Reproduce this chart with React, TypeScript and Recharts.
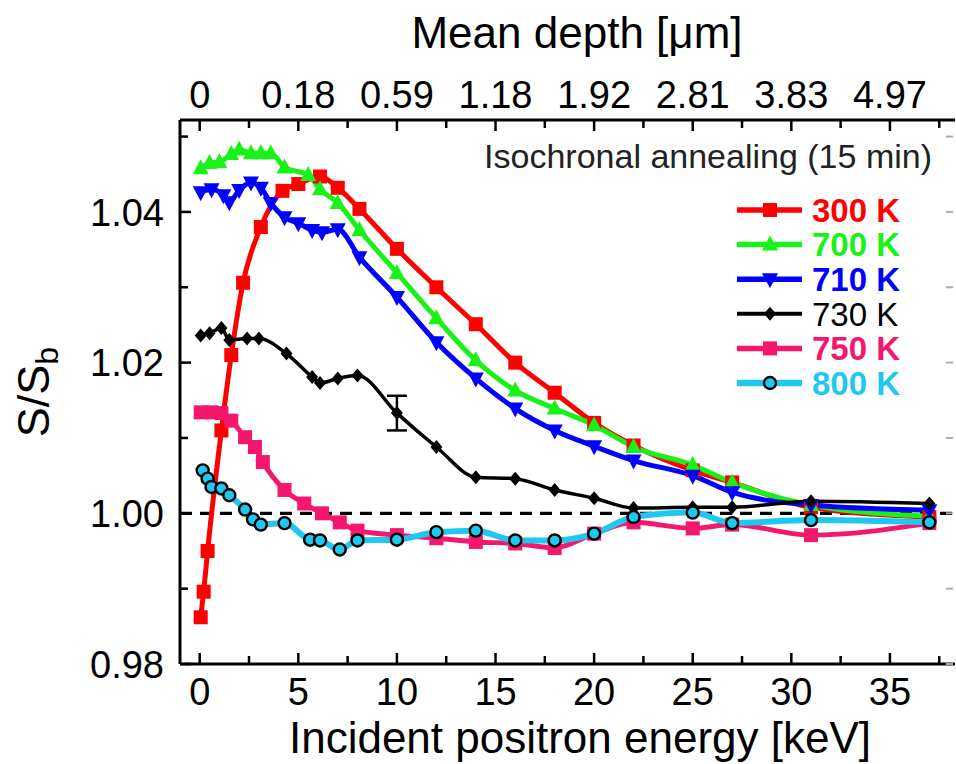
import React from 'react';
import { LineChart, Line, XAxis, YAxis, ReferenceLine, ErrorBar } from 'recharts';

const FONT = '"Liberation Sans", Arial, Helvetica, sans-serif';
const W = 956;
const H = 764;

// axis ticks
const energyTicks = [0, 2.5, 5, 7.5, 10, 12.5, 15, 17.5, 20, 22.5, 25, 27.5, 30, 32.5, 35, 37.5];
const energyLabels = ['0', '5', '10', '15', '20', '25', '30', '35'];
const depthLabels = ['0', '0.18', '0.59', '1.18', '1.92', '2.81', '3.83', '4.97'];
const sTicks = [0.98, 0.99, 1.0, 1.01, 1.02, 1.03, 1.04, 1.05];
const sLabels = ['0.98', '1.00', '1.02', '1.04'];

// 300 K
const e300 = [0.05, 0.2, 0.4, 1.1, 1.6, 2.2, 3.1, 4.2, 5.0, 6.1, 7.0, 8.1, 10, 12, 14, 16, 18, 20, 22, 25, 27, 31, 37];
const s300 = [0.9862, 0.9896, 0.995, 1.011, 1.021, 1.0306, 1.038, 1.0428, 1.0437, 1.0447, 1.0432, 1.0404, 1.0351, 1.030, 1.0251, 1.020, 1.016, 1.012, 1.009, 1.0057, 1.0041, 1.0008, 0.9995];
// 700 K
const e700 = [0.05, 0.5, 1.0, 1.6, 2.0, 2.6, 3.1, 3.6, 4.3, 5.5, 6.1, 7.0, 8.1, 10, 12, 14, 16, 18, 20, 22, 25, 27, 31, 37];
const s700 = [1.0458, 1.0465, 1.0466, 1.0477, 1.0483, 1.0478, 1.0478, 1.0478, 1.0459, 1.0449, 1.043, 1.0412, 1.0376, 1.0319, 1.0259, 1.0203, 1.0163, 1.0139, 1.0117, 1.0088, 1.0064, 1.0041, 1.0011, 0.9996];
// 710 K
const e710 = [0.05, 0.6, 1.2, 1.5, 2.0, 2.6, 3.1, 3.6, 4.3, 5.0, 5.7, 6.2, 7.0, 8.1, 10, 12, 14, 16, 18, 20, 22, 25, 27, 31, 37];
const s710 = [1.0426, 1.043, 1.0422, 1.0413, 1.0429, 1.0439, 1.0432, 1.0412, 1.0393, 1.0385, 1.0376, 1.0373, 1.0377, 1.034, 1.0287, 1.0227, 1.0179, 1.0139, 1.011, 1.0089, 1.007, 1.005, 1.0028, 1.0011, 1.0004];
// 730 K
const e730 = [0.05, 0.5, 1.1, 1.5, 2.4, 3.0, 4.4, 5.7, 6.1, 7.0, 8.0, 10, 12, 14, 16, 18, 20, 22, 25, 27, 31, 37];
const s730 = [1.0236, 1.0239, 1.0246, 1.023, 1.0232, 1.0232, 1.0212, 1.0181, 1.0173, 1.0179, 1.0183, 1.0133, 1.0088, 1.0048, 1.0046, 1.0031, 1.002, 1.0007, 1.0008, 1.0008, 1.0016, 1.0013];
const errE = 10;
const errS = 0.0023;
// 750 K
const e750 = [0.05, 0.6, 1.1, 1.6, 2.3, 2.8, 3.2, 4.3, 5.3, 6.2, 7.1, 8.0, 10, 12, 14, 16, 18, 20, 22, 25, 27, 31, 37];
const s750 = [1.0134, 1.0134, 1.0133, 1.0123, 1.0101, 1.0088, 1.0068, 1.0031, 1.0013, 1.0, 0.9988, 0.9977, 0.9971, 0.9967, 0.9962, 0.996, 0.9954, 0.9973, 0.9988, 0.998, 0.9985, 0.9971, 0.9987];
// 800 K
const e800 = [0.15, 0.4, 0.6, 1.1, 1.5, 2.3, 2.7, 3.1, 4.3, 5.6, 6.1, 7.1, 8.0, 10, 12, 14, 16, 18, 20, 22, 25, 27, 31, 37];
const s800 = [1.0057, 1.0046, 1.0035, 1.0033, 1.0024, 1.0005, 0.9992, 0.9985, 0.9987, 0.9965, 0.9964, 0.9952, 0.9964, 0.9965, 0.9975, 0.9977, 0.9964, 0.9964, 0.9973, 0.9995, 1.0001, 0.9987, 0.9991, 0.9988];

const zip = (e: number[], s: number[]) => e.map((v, i) => ({ e: v, s: s[i] }));

const series = [
  { name: '300 K', color: '#ff0000', shape: 'square', bold: true, width: 5, data: zip(e300, s300) },
  { name: '700 K', color: '#19f219', shape: 'up', bold: true, width: 5, data: zip(e700, s700) },
  { name: '710 K', color: '#0000ff', shape: 'down', bold: true, width: 5, data: zip(e710, s710) },
  {
    name: '730 K', color: '#000000', shape: 'diamond', bold: false, width: 3.5,
    data: zip(e730, s730).map((d) => (d.e === errE ? { ...d, err: errS } : d)),
  },
  { name: '750 K', color: '#f5166e', shape: 'square', bold: true, width: 5, data: zip(e750, s750) },
  { name: '800 K', color: '#1ec8f0', shape: 'circle', bold: true, width: 6, data: zip(e800, s800) },
];

function Marker({ cx, cy, shape, color }: any) {
  if (cx == null || cy == null) return null;
  if (shape === 'square') return <rect x={cx - 7} y={cy - 7} width={14} height={14} fill={color} />;
  if (shape === 'up')
    return <polygon points={`${cx},${cy - 9} ${cx - 8},${cy + 6} ${cx + 8},${cy + 6}`} fill={color} />;
  if (shape === 'down')
    return <polygon points={`${cx},${cy + 9} ${cx - 8},${cy - 6} ${cx + 8},${cy - 6}`} fill={color} />;
  if (shape === 'diamond')
    return <polygon points={`${cx},${cy - 7} ${cx + 6},${cy} ${cx},${cy + 7} ${cx - 6},${cy}`} fill={color} />;
  return <circle cx={cx} cy={cy} r={6} fill={color} stroke="#000" strokeWidth={2.4} />;
}

function BottomTick({ x, y, index }: any) {
  const major = index % 2 === 0;
  return (
    <g>
      <line x1={x} x2={x} y1={y} y2={y - (major ? 11 : 8)} stroke="#000" strokeWidth={2.5} />
      {major && (
        <text x={x} y={y + 41} textAnchor="middle" fontSize={38} fontFamily={FONT} fill="#000">
          {energyLabels[index / 2]}
        </text>
      )}
    </g>
  );
}

function TopTick({ x, y, index }: any) {
  const major = index % 2 === 0;
  return (
    <g>
      <line x1={x} x2={x} y1={y} y2={y + (major ? 11 : 8)} stroke="#000" strokeWidth={2.5} />
      {major && (
        <text x={x} y={y - 12} textAnchor="middle" fontSize={38} fontFamily={FONT} fill="#000">
          {depthLabels[index / 2]}
        </text>
      )}
    </g>
  );
}

function LeftTick({ x, y, index }: any) {
  const major = index % 2 === 0;
  return (
    <g>
      <line x1={x} x2={x + (major ? 11 : 8)} y1={y} y2={y} stroke="#000" strokeWidth={2.5} />
      {major && (
        <text x={x - 16} y={y} dy="0.36em" textAnchor="end" fontSize={38} fontFamily={FONT} fill="#000">
          {sLabels[index / 2]}
        </text>
      )}
    </g>
  );
}

function RightTick({ x, y }: any) {
  return <line x1={x - 9} x2={x - 2} y1={y} y2={y} stroke="#aaa" strokeWidth={2} />;
}

export default function App() {
  return (
    <div style={{ position: 'absolute', left: 0, top: 0, width: W, height: H, background: '#fff' }}>
      <LineChart width={W} height={H} margin={{ top: 0, right: 0, bottom: 0, left: 0 }}>
        <XAxis
          xAxisId="e"
          dataKey="e"
          type="number"
          domain={[-1, 38.3]}
          allowDataOverflow
          ticks={energyTicks}
          interval={0}
          height={100}
          tickSize={0}
          tickMargin={0}
          tickLine={false}
          axisLine={{ stroke: '#000', strokeWidth: 3 }}
          tick={<BottomTick />}
          label={{
            content: () => (
              <text x={580} y={753} textAnchor="middle" fontSize={44} fontFamily={FONT} fill="#000">
                Incident positron energy [keV]
              </text>
            ),
          }}
        />
        <XAxis
          xAxisId="top"
          dataKey="e"
          orientation="top"
          type="number"
          domain={[-1, 38.3]}
          allowDataOverflow
          ticks={energyTicks}
          interval={0}
          height={120}
          tickSize={0}
          tickMargin={0}
          tickLine={false}
          axisLine={{ stroke: '#000', strokeWidth: 3 }}
          tick={<TopTick />}
          label={{
            content: () => (
              <text x={577} y={48} textAnchor="middle" fontSize={44} fontFamily={FONT} fill="#000">
                Mean depth [μm]
              </text>
            ),
          }}
        />
        <YAxis
          yAxisId="s"
          type="number"
          domain={[0.98, 1.0522]}
          allowDataOverflow
          ticks={sTicks}
          interval={0}
          width={180}
          tickSize={0}
          tickMargin={0}
          tickLine={false}
          axisLine={{ stroke: '#000', strokeWidth: 3 }}
          tick={<LeftTick />}
          label={{
            content: ({ viewBox }: any) => {
              const cx = 49;
              const cy = viewBox.y + viewBox.height / 2;
              return (
                <text transform={`rotate(-90, ${cx}, ${cy})`} x={cx} y={cy} textAnchor="middle" fontSize={45} fontFamily={FONT} fill="#000">
                  S/S<tspan fontSize={32} dy={9}>b</tspan>
                </text>
              );
            },
          }}
        />
        <YAxis
          yAxisId="r"
          orientation="right"
          type="number"
          domain={[0.98, 1.0522]}
          allowDataOverflow
          ticks={sTicks}
          interval={0}
          width={1}
          tickSize={0}
          tickMargin={0}
          tickLine={false}
          axisLine={false}
          tick={<RightTick />}
        />
        <ReferenceLine xAxisId="e" yAxisId="s" y={1} stroke="#000" strokeWidth={3.2} strokeDasharray="12 8" />
        {/* carrier series so the top depth axis gets a domain */}
        <Line
          xAxisId="top"
          yAxisId="r"
          data={series[0].data}
          dataKey="s"
          stroke="none"
          dot={false}
          activeDot={false}
          isAnimationActive={false}
          legendType="none"
        />
        {series.map((sr) => (
          <Line
            key={sr.name}
            xAxisId="e"
            yAxisId="s"
            data={sr.data}
            dataKey="s"
            name={sr.name}
            type="monotone"
            stroke={sr.color}
            strokeWidth={sr.width}
            isAnimationActive={false}
            activeDot={false}
            dot={(p: any) => <Marker key={`${sr.name}-${p.index}`} cx={p.cx} cy={p.cy} shape={sr.shape} color={sr.color} />}
          >
            {sr.shape === 'diamond' && (
              <ErrorBar dataKey="err" width={10} stroke="#000" strokeWidth={2.5} direction="y" />
            )}
          </Line>
        ))}
      </LineChart>
      <svg width={W} height={H} style={{ position: 'absolute', left: 0, top: 0, pointerEvents: 'none' }}>
        <text x={932} y={168} textAnchor="end" fontSize={34} fontFamily={FONT} fill="#222">
          Isochronal annealing (15 min)
        </text>
        {series.map((sr, i) => {
          const y = 210 + i * 34.6;
          return (
            <g key={sr.name}>
              <line x1={737} x2={802} y1={y} y2={y} stroke={sr.color} strokeWidth={sr.width + 0.5} />
              <Marker cx={770} cy={y} shape={sr.shape} color={sr.color} />
              <text x={812} y={y} dy="0.36em" fontSize={33} fontWeight={sr.bold ? 'bold' : 'normal'} fontFamily={FONT} fill={sr.color}>
                {sr.name}
              </text>
            </g>
          );
        })}
      </svg>
    </div>
  );
}
